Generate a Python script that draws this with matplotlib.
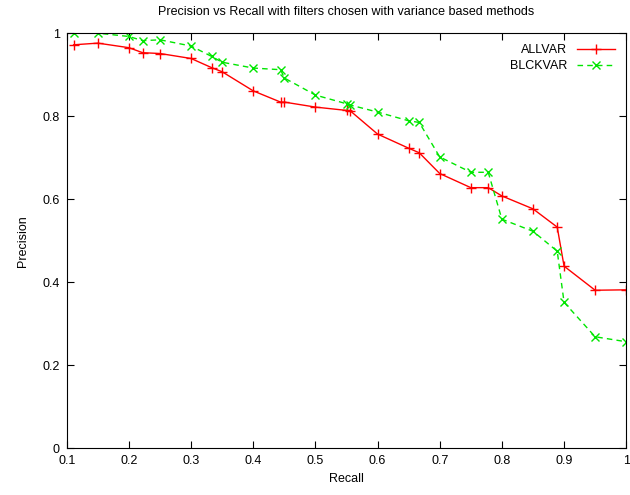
import numpy as np
import matplotlib.pyplot as plt

plt.rcParams['font.family'] = ['Liberation Sans', 'DejaVu Sans']

recall = [0.111, 0.15, 0.2, 0.222, 0.25, 0.3, 0.333, 0.35, 0.4, 0.444, 0.45, 0.5,
          0.55, 0.556, 0.6, 0.65, 0.667, 0.7, 0.75, 0.778, 0.8, 0.85, 0.889, 0.9,
          0.95, 1.0]
allvar = [0.972, 0.976, 0.965, 0.953, 0.951, 0.939, 0.917, 0.907, 0.861, 0.834, 0.834, 0.822,
          0.814, 0.813, 0.757, 0.723, 0.712, 0.662, 0.628, 0.628, 0.608, 0.577, 0.533, 0.439,
          0.381, 0.382]
blckvar = [1.0, 1.0, 0.992, 0.982, 0.984, 0.969, 0.944, 0.930, 0.916, 0.912, 0.892, 0.851,
           0.830, 0.827, 0.810, 0.789, 0.785, 0.702, 0.665, 0.665, 0.552, 0.523, 0.475, 0.352,
           0.269, 0.257]

fig = plt.figure(figsize=(6.3, 4.95), dpi=100)
ax = fig.add_axes([0.106, 0.094, 0.888, 0.839])

ax.plot(recall, allvar, color='#ff0000', lw=1, marker='+', ms=7, mew=1, label='ALLVAR')
ax.plot(recall, blckvar, color='#00e600', lw=1, ls=(0, (4, 3)), marker='x', ms=6, mew=1, label='BLCKVAR')

ax.set_xlim(0.1, 1)
ax.set_ylim(0, 1)
xt = np.arange(0.1, 1.01, 0.1)
ax.set_xticks(xt)
ax.set_xticklabels(['0.1', '0.2', '0.3', '0.4', '0.5', '0.6', '0.7', '0.8', '0.9', '1'])
ax.set_yticks([0, 0.2, 0.4, 0.6, 0.8, 1])
ax.set_yticklabels(['0', '0.2', '0.4', '0.6', '0.8', '1'])
ax.tick_params(direction='in', top=True, right=True, length=5, labelsize=9, pad=5)

ax.set_xlabel('Recall', fontsize=9, labelpad=4)
ax.set_ylabel('Precision', fontsize=9, labelpad=10)
ax.set_title('Precision vs Recall with filters chosen with variance based methods', fontsize=9, pad=13)

ax.legend(loc='upper right', frameon=False, markerfirst=False, fontsize=9,
          handlelength=3.0, handletextpad=0.8, borderaxespad=0.5, labelspacing=0.3)

fig.savefig('out.png', dpi=100)
